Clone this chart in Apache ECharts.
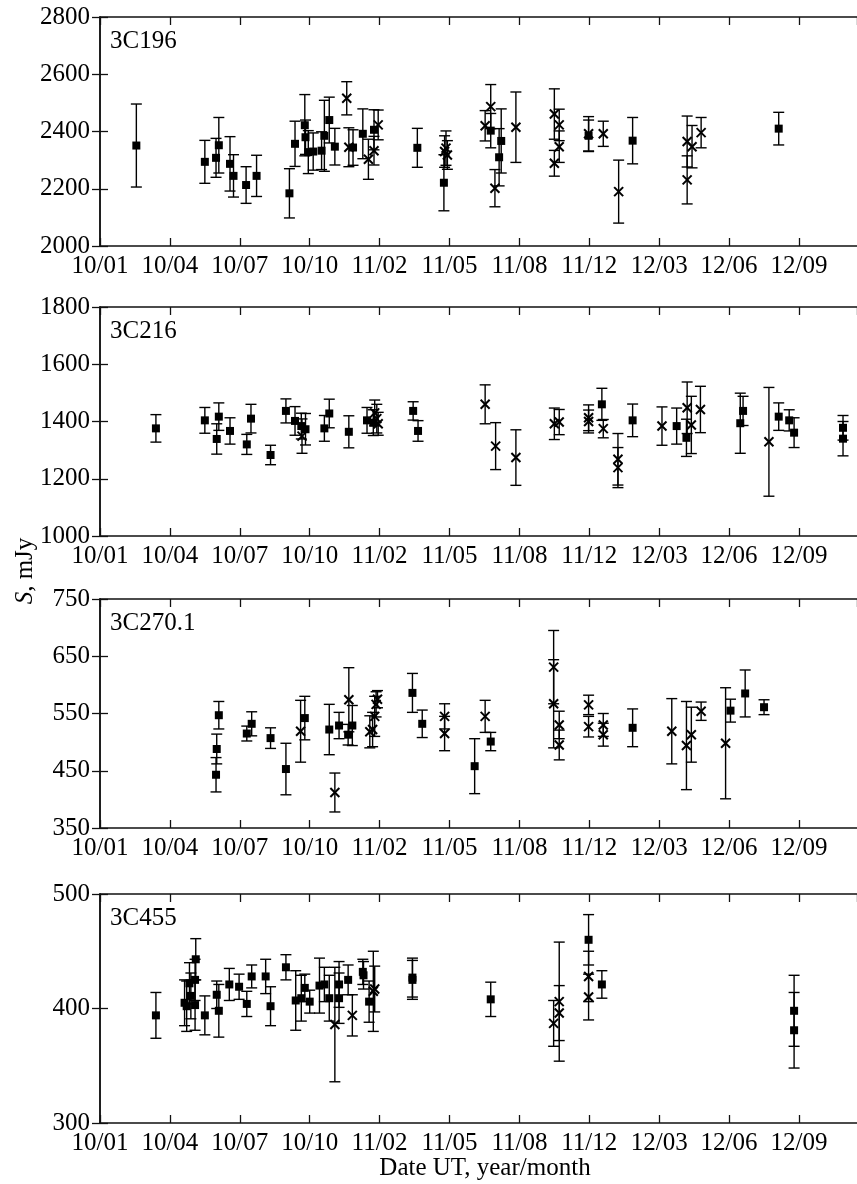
<!DOCTYPE html>
<html>
<head>
<meta charset="utf-8">
<script src="https://cdn.jsdelivr.net/npm/echarts@6/dist/echarts.min.js"></script>
<style>
  html, body { margin: 0; padding: 0; background: #fff; }
  #chart { width: 857px; height: 1184px; }
</style>
</head>
<body>
<div id="chart"></div>
<script>
// x = days since 2010-01-01, ticks every 100 days
var tickLabels = ['10/01', '10/04', '10/07', '10/10', '11/02', '11/05', '11/08', '11/12', '12/03', '12/06', '12/09'];
var sources = ['3C196', '3C216', '3C270.1', '3C455'];

// 3C196
var c196SqDay = [52, 150, 166, 170, 186, 191, 209, 224, 271, 279, 293, 294, 298, 305, 317, 321, 328, 336, 362, 376, 392, 454, 492, 559, 571, 574, 699, 762, 971];
var c196SqVal = [2351, 2294, 2308, 2352, 2287, 2245, 2213, 2245, 2184, 2357, 2422, 2380, 2328, 2330, 2333, 2385, 2440, 2347, 2344, 2392, 2406, 2343, 2221, 2403, 2310, 2367, 2385, 2368, 2410];
var c196SqErr = [145, 75, 68, 97, 95, 74, 64, 72, 86, 79, 107, 60, 75, 65, 66, 124, 80, 64, 62, 87, 70, 68, 98, 60, 100, 112, 55, 81, 57];
var c196XDay = [353, 356, 384, 392, 398, 493, 495, 497, 551, 559, 565, 595, 650, 650, 657, 657, 699, 720, 742, 840, 840, 847, 860];
var c196XVal = [2516, 2345, 2303, 2333, 2423, 2330, 2342, 2318, 2420, 2487, 2202, 2415, 2461, 2289, 2423, 2347, 2392, 2392, 2190, 2365, 2231, 2347, 2396];
var c196XErr = [58, 68, 70, 50, 52, 55, 60, 50, 53, 77, 65, 123, 88, 45, 55, 55, 60, 44, 110, 89, 84, 74, 53];

// 3C216
var c216SqDay = [80, 150, 167, 170, 186, 210, 216, 244, 266, 279, 288, 294, 321, 328, 356, 382, 391, 448, 455, 718, 762, 825, 839, 916, 920, 971, 986, 993, 1063, 1063];
var c216SqVal = [1376, 1404, 1339, 1417, 1367, 1320, 1410, 1283, 1437, 1402, 1384, 1373, 1376, 1428, 1364, 1404, 1396, 1437, 1367, 1460, 1404, 1384, 1343, 1394, 1437, 1417, 1404, 1361, 1378, 1340];
var c216SqErr = [48, 45, 53, 48, 46, 35, 50, 34, 42, 50, 45, 55, 45, 50, 56, 45, 45, 32, 36, 56, 57, 63, 65, 105, 51, 48, 37, 52, 43, 60];
var c216XDay = [289, 393, 396, 398, 551, 566, 595, 650, 657, 699, 699, 720, 741, 741, 804, 840, 846, 859, 957];
var c216XVal = [1349, 1430, 1410, 1392, 1460, 1314, 1274, 1392, 1398, 1413, 1400, 1375, 1268, 1239, 1384, 1448, 1388, 1442, 1329];
var c216XErr = [60, 45, 50, 40, 68, 82, 97, 55, 44, 45, 40, 32, 90, 70, 67, 90, 100, 81, 190];

// 3C270.1
var c270SqDay = [166, 167, 170, 210, 217, 244, 266, 293, 328, 342, 355, 361, 447, 461, 536, 559, 762, 902, 923, 950];
var c270SqVal = [443, 488, 547, 515, 532, 507, 453, 542, 522, 529, 513, 529, 586, 532, 458, 501, 525, 555, 585, 561];
var c270SqErr = [30, 26, 24, 13, 21, 18, 45, 38, 44, 23, 18, 35, 34, 24, 48, 16, 33, 20, 41, 13];
var c270XDay = [287, 336, 356, 386, 390, 393, 395, 397, 493, 493, 551, 649, 649, 657, 657, 699, 699, 720, 720, 818, 839, 846, 860, 895];
var c270XVal = [519, 412, 574, 518, 522, 545, 566, 575, 545, 515, 545, 631, 567, 530, 495, 565, 527, 530, 513, 519, 494, 513, 554, 498];
var c270XErr = [54, 34, 56, 28, 30, 35, 22, 15, 22, 30, 28, 64, 77, 24, 26, 17, 18, 20, 20, 57, 77, 48, 16, 97];

// 3C455
var c455SqDay = [80, 121, 124, 128, 130, 136, 136, 137, 150, 167, 170, 185, 199, 210, 217, 237, 244, 266, 280, 288, 293, 300, 314, 321, 328, 342, 342, 355, 376, 377, 385, 447, 447, 559, 699, 718, 993, 993];
var c455SqVal = [394, 405, 402, 422, 411, 403, 425, 443, 394, 412, 398, 421, 419, 404, 428, 428, 402, 436, 407, 409, 418, 406, 420, 421, 409, 409, 421, 425, 432, 429, 406, 427, 425, 408, 460, 421, 398, 381];
var c455SqErr = [20, 20, 22, 18, 20, 22, 18, 18, 17, 12, 23, 14, 11, 11, 10, 15, 17, 11, 26, 20, 12, 10, 24, 15, 20, 22, 20, 13, 11, 12, 18, 17, 17, 15, 22, 12, 31, 33];
var c455XDay = [336, 361, 391, 393, 649, 657, 657, 699, 699];
var c455XVal = [386, 394, 415, 417, 387, 406, 396, 428, 410];
var c455XErr = [50, 18, 35, 20, 20, 52, 24, 22, 20];

var yRanges = [[2000, 2800, 200], [1000, 1800, 200], [350, 750, 100], [300, 500, 100]];
var panelTops = [17, 307, 599, 894];
var panelH = 229;
var font = 'Liberation Serif';

function pack(d, v, e) {
  return d.map(function (x, i) { return [x, v[i], e[i]]; });
}

var panels = [
  [pack(c196SqDay, c196SqVal, c196SqErr), pack(c196XDay, c196XVal, c196XErr)],
  [pack(c216SqDay, c216SqVal, c216SqErr), pack(c216XDay, c216XVal, c216XErr)],
  [pack(c270SqDay, c270SqVal, c270SqErr), pack(c270XDay, c270XVal, c270XErr)],
  [pack(c455SqDay, c455SqVal, c455SqErr), pack(c455XDay, c455XVal, c455XErr)]
];

// error bar + marker ('sq' filled square, 'x' cross)
function barItem(mark) {
  return function (params, api) {
    var x = api.value(0), v = api.value(1), e = api.value(2);
    var c = api.coord([x, v]);
    var hi = api.coord([x, v + e]);
    var lo = api.coord([x, v - e]);
    var w = 5.5;
    var st = { stroke: '#000', lineWidth: 1.4 };
    var kids = [
      { type: 'line', shape: { x1: c[0], y1: hi[1], x2: c[0], y2: lo[1] }, style: st },
      { type: 'line', shape: { x1: c[0] - w, y1: hi[1], x2: c[0] + w, y2: hi[1] }, style: st },
      { type: 'line', shape: { x1: c[0] - w, y1: lo[1], x2: c[0] + w, y2: lo[1] }, style: st }
    ];
    if (mark === 'sq') {
      kids.push({ type: 'rect', shape: { x: c[0] - 4, y: c[1] - 4, width: 8, height: 8 }, style: { fill: '#000' } });
    } else {
      var s = 4.5, xs = { stroke: '#000', lineWidth: 2 };
      kids.push({ type: 'line', shape: { x1: c[0] - s, y1: c[1] - s, x2: c[0] + s, y2: c[1] + s }, style: xs });
      kids.push({ type: 'line', shape: { x1: c[0] - s, y1: c[1] + s, x2: c[0] + s, y2: c[1] - s }, style: xs });
    }
    return { type: 'group', children: kids };
  };
}

var axLine = { show: true, lineStyle: { color: '#111', width: 1.5 } };
var axTick = { show: true, inside: true, length: 8, lineStyle: { color: '#111', width: 1.3 } };

var grid = [], xAxis = [], yAxis = [], series = [], graphic = [];

panelTops.forEach(function (top, i) {
  grid.push({ left: 100, width: 758, top: top, height: panelH });
  var xb = {
    type: 'value', gridIndex: i, position: 'bottom', min: 0, max: 1083, interval: 100,
    axisLine: axLine, axisTick: axTick, splitLine: { show: false },
    axisLabel: {
      margin: 8, color: '#000', fontFamily: font, fontSize: 25, showMaxLabel: false,
      formatter: function (v) { var k = Math.round(v / 100); return (v % 100 === 0 && tickLabels[k]) ? tickLabels[k] : ''; }
    }
  };
  var xt = Object.assign({}, xb, { position: 'top', axisLabel: { show: false } });
  xAxis.push(xb, xt);
  var r = yRanges[i];
  var yl = {
    type: 'value', gridIndex: i, position: 'left', min: r[0], max: r[1], interval: r[2],
    axisLine: axLine, axisTick: axTick, splitLine: { show: false },
    axisLabel: {
      margin: 10, color: '#000', fontFamily: font, fontSize: 25,
      formatter: function (v) { return String(v); }
    }
  };
  var yr = Object.assign({}, yl, { position: 'right', axisLabel: { show: false } });
  yAxis.push(yl, yr);

  series.push({
    type: 'custom', xAxisIndex: 2 * i, yAxisIndex: 2 * i,
    renderItem: barItem('sq'), encode: { x: 0, y: 1 }, data: panels[i][0]
  });
  series.push({
    type: 'custom', xAxisIndex: 2 * i, yAxisIndex: 2 * i,
    renderItem: barItem('x'), encode: { x: 0, y: 1 }, data: panels[i][1]
  });

  graphic.push({
    type: 'text', left: 110, top: top + 12,
    style: { text: sources[i], fontFamily: font, fontSize: 25, fill: '#000' }
  });
});

// axis titles
graphic.push({
  type: 'text', x: 25, y: 571, rotation: Math.PI / 2,
  style: {
    text: '{i|S}, mJy', fontFamily: font, fontSize: 25, fill: '#000',
    align: 'center', verticalAlign: 'middle',
    rich: { i: { fontStyle: 'italic', fontFamily: font, fontSize: 25 } }
  }
});
graphic.push({
  type: 'text', x: 485, y: 1168,
  style: { text: 'Date UT, year/month', fontFamily: font, fontSize: 25, fill: '#000', align: 'center', verticalAlign: 'middle' }
});

var chart = echarts.init(document.getElementById('chart'), null, { renderer: 'canvas' });
chart.setOption({
  animation: false,
  grid: grid,
  xAxis: xAxis,
  yAxis: yAxis,
  series: series,
  graphic: graphic
});
</script>
</body>
</html>
